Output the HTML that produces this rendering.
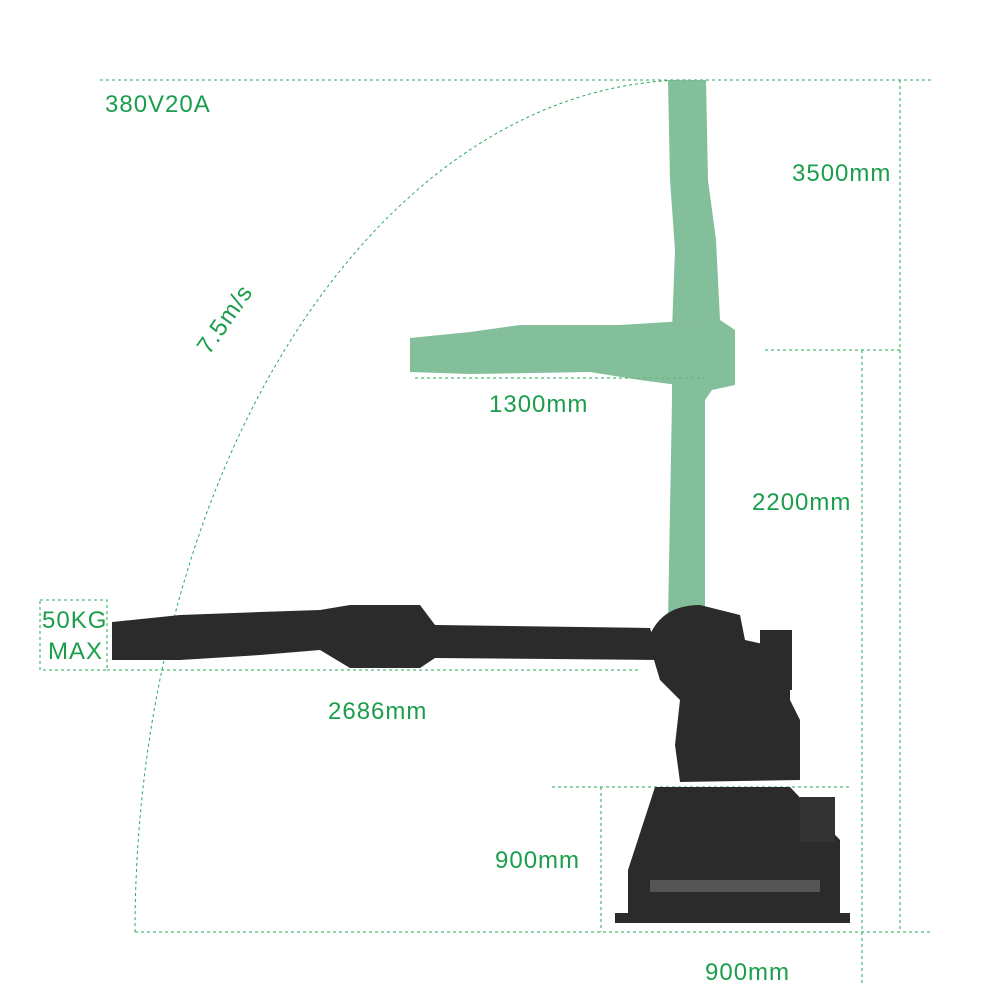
<!DOCTYPE html>
<html><head><meta charset="utf-8"><style>
html,body{margin:0;padding:0;background:#fff;}
svg{display:block}
text{font-family:"Liberation Sans",sans-serif;fill:#1a9e4b;letter-spacing:1px;}
</style></head><body>
<svg width="1000" height="1000" viewBox="0 0 1000 1000" xmlns="http://www.w3.org/2000/svg">
<g stroke="#2aa85a" stroke-width="1" stroke-dasharray="3,3" fill="none">
<line x1="100" y1="80" x2="933" y2="80"/>
<line x1="900" y1="80" x2="900" y2="932"/>
<line x1="765" y1="350" x2="900" y2="350"/>
<line x1="862" y1="350" x2="862" y2="985"/>
<line x1="135" y1="932" x2="933" y2="932"/>
<path d="M135 932 A555 852 0 0 1 690 80"/>
<rect x="40" y="600" width="67" height="70"/>
<line x1="107" y1="670" x2="640" y2="670"/>
<line x1="415" y1="378" x2="705" y2="378"/>
<line x1="552" y1="787" x2="850" y2="787"/>
<line x1="601" y1="787" x2="601" y2="932"/>
</g>
<g fill="#6fb48a" opacity="0.85">
<path d="M668 80 L706 80 L708 180 L716 240 L720 320 L735 330 L735 385 L712 390 L705 400 L705 620 L668 620 L672 400 L672 330 L675 250 L670 180 Z"/>
<path d="M410 338 L470 332 L520 325 L620 325 L700 320 L735 330 L735 385 L700 388 L640 380 L590 372 L470 374 L410 372 Z"/>
</g>
<g fill="#2b2b2b">
<path d="M112 622 L180 615 L260 612 L320 610 L350 605 L420 605 L435 625 L650 628 L660 660 L435 658 L420 668 L350 668 L320 650 L260 655 L180 660 L112 660 Z"/>
<path d="M648 640 Q660 605 700 605 L740 615 L745 640 L790 650 L790 700 L800 720 L800 780 L680 782 L675 745 L680 700 L660 680 Z"/>
<rect x="760" y="630" width="32" height="60"/>
<path d="M655 787 L790 787 L840 840 L840 915 L628 915 L628 870 Z"/>
<rect x="800" y="797" width="35" height="45" fill="#333"/>
<rect x="615" y="913" width="235" height="10"/>
</g>
<g fill="#555"><rect x="650" y="880" width="170" height="12"/></g>
<text x="105" y="112" font-size="24">380V20A</text>
<text x="792" y="181" font-size="24">3500mm</text>
<text x="180" y="350" font-size="24" transform="rotate(-55 200 325)">7.5m/s</text>
<text x="489" y="412" font-size="24">1300mm</text>
<text x="752" y="510" font-size="24">2200mm</text>
<text x="42" y="628" font-size="24">50KG</text>
<text x="48" y="659" font-size="24">MAX</text>
<text x="328" y="719" font-size="24">2686mm</text>
<text x="495" y="868" font-size="24">900mm</text>
<text x="705" y="980" font-size="24">900mm</text>
</svg>
</body></html>
